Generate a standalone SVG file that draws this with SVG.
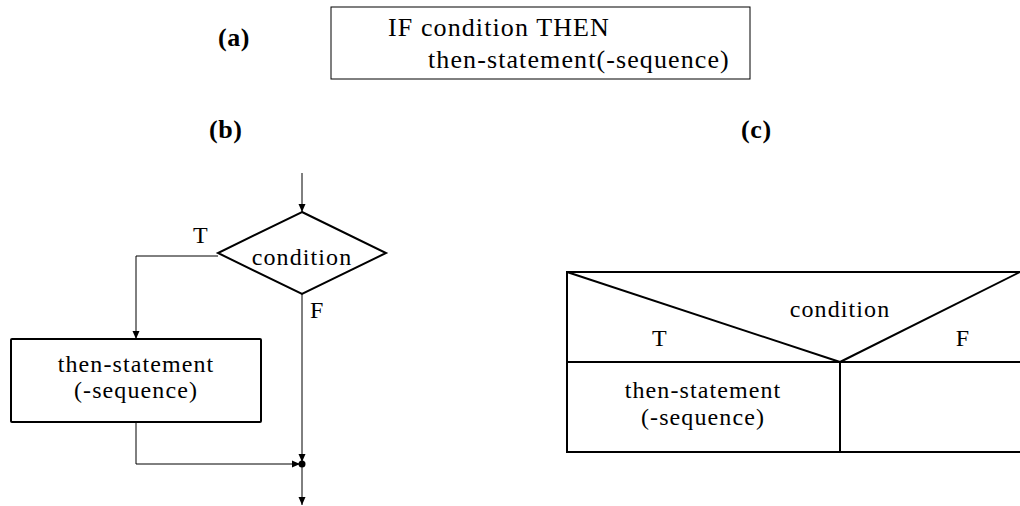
<svg xmlns="http://www.w3.org/2000/svg" width="1020" height="506" viewBox="0 0 1020 506" font-family="'Liberation Serif','DejaVu Serif','Times New Roman',serif">
<style>
text{font-family:"Liberation Serif","DejaVu Serif","Times New Roman",serif;font-size:24px;letter-spacing:1.1px;fill:#000}
.lbl{font-weight:bold;font-size:26px;letter-spacing:0.6px}
.big{font-size:26px;letter-spacing:1.1px}
.mid{text-anchor:middle}
.thin{fill:none;stroke:#000;stroke-width:1}
.thick{fill:none;stroke:#000;stroke-width:2}
</style>
<defs>
<marker id="arr" markerWidth="8" markerHeight="10" refX="8" refY="5" orient="auto" markerUnits="userSpaceOnUse">
<path d="M0,1.5 L8,5 L0,8.5 Z" fill="#000"/>
</marker>
</defs>
<rect width="1020" height="506" fill="#fff"/>
<text class="lbl" x="218" y="46">(a)</text>
<text class="lbl" x="209" y="138">(b)</text>
<text class="lbl" x="741" y="138">(c)</text>
<g id="pseudocode">
<rect x="331" y="7" width="419" height="72" class="thin"/>
<text class="big" x="388" y="36">IF condition THEN</text>
<text class="big" x="428" y="68">then-statement(-sequence)</text>
</g>
<g id="decision">
<polygon points="302,212 386,253 302,294 218,253" class="thick"/>
<text class="mid" x="302" y="265">condition</text>
</g>
<g id="then-box">
<rect x="11" y="339" width="250" height="83" rx="1" class="thick"/>
<text class="mid" x="136" y="372">then-statement</text>
<text class="mid" x="136" y="398">(-sequence)</text>
</g>
<g id="junction">
<circle cx="302" cy="464" r="3.5" fill="#000"/>
</g>
<g id="connectors">
<line x1="302" y1="173" x2="302" y2="212" class="thin" marker-end="url(#arr)"/>
<polyline points="218,256 136,256 136,339" class="thin" marker-end="url(#arr)"/>
<line x1="302" y1="294" x2="302" y2="462" class="thin" marker-end="url(#arr)"/>
<polyline points="136,422 136,464 300,464" class="thin" marker-end="url(#arr)"/>
<line x1="302" y1="464" x2="302" y2="505" class="thin" marker-end="url(#arr)"/>
<text x="193" y="243">T</text>
<text x="310" y="318">F</text>
</g>
<g id="nassi">
<polyline points="1022,272 567,272 567,452 1022,452" class="thick"/>
<line x1="567" y1="362" x2="1022" y2="362" class="thick"/>
<line x1="840" y1="362" x2="840" y2="452" class="thick"/>
<line x1="567" y1="272" x2="840" y2="362" class="thick"/>
<line x1="840" y1="362" x2="1020" y2="272" class="thick"/>
<text class="mid" x="840" y="317">condition</text>
<text class="mid" x="660" y="346">T</text>
<text class="mid" x="963" y="346">F</text>
<text class="mid" x="703" y="398">then-statement</text>
<text class="mid" x="703" y="425">(-sequence)</text>
</g>
</svg>
